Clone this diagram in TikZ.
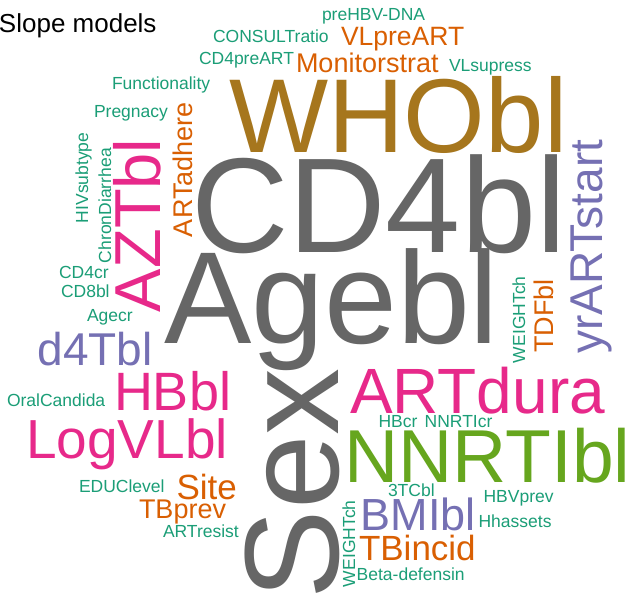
\documentclass[tikz,border=0pt]{standalone}
\usepackage{fontspec}
\setmainfont{Liberation Sans}
\definecolor{cgry}{HTML}{666666}
\definecolor{cgld}{HTML}{A6761D}
\definecolor{cpnk}{HTML}{E7298A}
\definecolor{cgrn}{HTML}{1B9E77}
\definecolor{corg}{HTML}{D95F02}
\definecolor{cpur}{HTML}{7570B3}
\definecolor{clim}{HTML}{66A61E}
\newcommand\wcfs[1]{\fontsize{#1bp}{#1bp}\selectfont}
\begin{document}
\begin{tikzpicture}[x=1bp,y=-1bp,
  wd/.style={anchor=base west,inner sep=0pt,outer sep=0pt},
  sz/.style={font={\wcfs{#1}}},
  rot/.style={rotate=90},
  gry/.style={wd,text=cgry},
  gld/.style={wd,text=cgld},
  pnk/.style={wd,text=cpnk},
  grn/.style={wd,text=cgrn,sz=17.5},
  org/.style={wd,text=corg},
  pur/.style={wd,text=cpur},
  lim/.style={wd,text=clim}]
\useasboundingbox[fill=white] (0,0) rectangle (629,595);
% title
\node[wd,text=black,sz=26] (slope) at (-1,33) {Slope models};
% big words
\node[gld,sz=105] (whobl) at (229,153) {WHObl};
\node[gry,sz=135] (cd4bl) at (191,252) {CD4bl};
\node[gry,sz=131] (agebl) at (164,343) {Agebl};
\node[gry,sz=134,rot] (sex) at (338,599) {Sex};
% pink
\node[pnk,sz=65,rot] (aztbl) at (160,312) {AZTbl};
\node[pnk,sz=54] (hbbl) at (114,410) {HBbl};
\node[pnk,sz=55] (logvlbl) at (26,458) {LogVLbl};
\node[pnk,sz=64] (artdura) at (350,413) {ARTdura};
% lime
\node[lim,sz=75] (nnrtibl) at (344.5,482) {NNRTIbl};
% purple
\node[pur,sz=46] (d4tbl) at (37.5,365) {d4Tbl};
\node[pur,sz=46,rot] (yrartstart) at (602,353.5) {yrARTstart};
\node[pur,sz=45] (bmibl) at (360.7,530) {BMIbl};
% orange
\node[org,sz=26.5] (vlpreart) at (341,46) {VLpreART};
\node[org,sz=27] (monitorstrat) at (296,73) {Monitorstrat};
\node[org,sz=27,rot] (artadhere) at (192,237) {ARTadhere};
\node[org,sz=27,rot] (tdfbl) at (553,352.5) {TDFbl};
\node[org,sz=35] (site) at (176.5,499) {Site};
\node[org,sz=27] (tbprev) at (139,518) {TBprev};
\node[org,sz=35] (tbincid) at (359,560) {TBincid};
% green
\node[grn] (consult) at (213,43) {CONSULTratio};
\node[grn] (prehbv) at (322,21) {preHBV-DNA};
\node[grn] (cd4preart) at (199,65) {CD4preART};
\node[grn] (vlsupress) at (449,72) {VLsupress};
\node[grn] (functionality) at (112,90) {Functionality};
\node[grn] (pregnacy) at (94,118) {Pregnacy};
\node[grn,rot] (hivsubtype) at (88,223) {HIVsubtype};
\node[grn,rot] (chrondiarrhea) at (111,263) {ChronDiarrhea};
\node[grn] (cd4cr) at (59,278) {CD4cr};
\node[grn] (cd8bl) at (61,297) {CD8bl};
\node[grn] (agecr) at (87,321) {Agecr};
\node[grn] (oralcandida) at (7,406) {OralCandida};
\node[grn] (educlevel) at (79,492) {EDUClevel};
\node[grn] (artresist) at (163,537) {ARTresist};
\node[grn,rot] (weight1) at (525,363) {WEIGHTch};
\node[grn,rot] (weight2) at (355,587) {WEIGHTch};
\node[grn] (hbcr) at (378.6,427) {HBcr};
\node[grn] (nnrticr) at (424.7,427) {NNRTIcr};
\node[grn] (threetcbl) at (388,496) {3TCbl};
\node[grn] (hbvprev) at (483.6,502) {HBVprev};
\node[grn] (hhassets) at (478.6,527) {Hhassets};
\node[grn] (betadef) at (356.7,580) {Beta-defensin};
\end{tikzpicture}
\end{document}
